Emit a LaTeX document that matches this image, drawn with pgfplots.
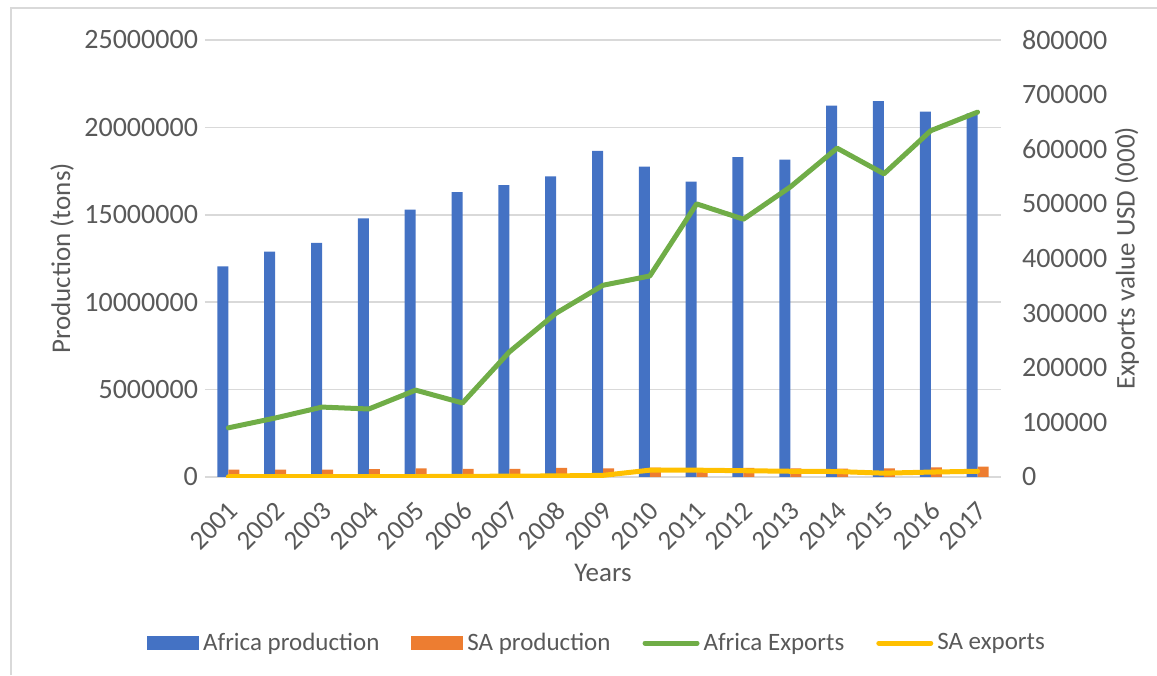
\documentclass[border=0pt]{standalone}
\usepackage{pgfplots}
\pgfplotsset{compat=1.18}
\usepackage{fontspec}
\setmainfont{Carlito}
\definecolor{cblue}{HTML}{4472C4}
\definecolor{corange}{HTML}{ED7D31}
\definecolor{cgreen}{HTML}{70AD47}
\definecolor{cyellow}{HTML}{FFC000}
\definecolor{ctext}{HTML}{595959}
\definecolor{cgrid}{HTML}{D9D9D9}
\begin{document}
\begin{tikzpicture}
\useasboundingbox (0,0) rectangle (578.5pt,337.5pt);
\draw[cgrid, line width=0.75pt] (5.5pt,0) -- (5.5pt,333.5pt) -- (578.5pt,333.5pt);
\pgfplotsset{
  common/.style={
    at={(102.5pt,99pt)}, anchor=south west, scale only axis,
    width=398pt, height=218.5pt,
    xmin=-0.5, xmax=16.5,
    axis line style={draw=none},
    major tick length=0pt,
    tick label style={font=\fontsize{14}{16}\selectfont, text=ctext},
    label style={font=\fontsize{13.5}{16}\selectfont, text=ctext},
    /pgf/number format/assume math mode=true,
    /pgf/number format/fixed, /pgf/number format/1000 sep={},
    scaled y ticks=false,
  }
}
\begin{axis}[common,
  ymin=0, ymax=25000000,
  ytick={0,5000000,10000000,15000000,20000000,25000000},
  ymajorgrids, grid style={cgrid, line width=0.75pt},
  xtick={0,...,16},
  xticklabels={2001,2002,2003,2004,2005,2006,2007,2008,2009,2010,2011,2012,2013,2014,2015,2016,2017},
  x tick label style={xshift=-0.8pt, yshift=-6.5pt, rotate=45, anchor=north east, font=\fontsize{13.5}{16}\selectfont},
  ylabel={Production (tons)},
  ylabel style={at={(axis description cs:-0.1796,0.5)}, anchor=center},
  xlabel={Years},
  xlabel style={at={(axis description cs:0.5,0)}, anchor=center, yshift=-48pt},
  ybar=0pt, bar width=5.5pt,
]
\addplot[fill=cblue, draw=none] coordinates {
(0,12050000) (1,12900000) (2,13400000) (3,14800000) (4,15300000) (5,16300000)
(6,16700000) (7,17200000) (8,18650000) (9,17750000) (10,16900000) (11,18300000)
(12,18150000) (13,21250000) (14,21500000) (15,20900000) (16,20800000)};
\addplot[fill=corange, draw=none] coordinates {
(0,420000) (1,420000) (2,420000) (3,450000) (4,500000) (5,470000)
(6,460000) (7,520000) (8,500000) (9,540000) (10,500000) (11,520000)
(12,500000) (13,480000) (14,500000) (15,550000) (16,600000)};
\end{axis}
\begin{axis}[common,
  ymin=0, ymax=800000,
  ytick={0,100000,...,800000},
  axis y line*=right,
  axis x line=none,
  yticklabel style={xshift=7pt},
  ylabel={Exports value USD (000)},
  ylabel style={at={(axis description cs:1.1583,0.5)}, anchor=center},
  legend columns=4,
  legend style={at={(axis description cs:0.4937,-0.380)}, anchor=center, draw=none,
    font=\fontsize{12.5}{15}\selectfont, text=ctext,
    /tikz/every even column/.append style={column sep=14pt}},
  legend cell align=left,
]
\addlegendimage{area legend, fill=cblue, draw=none, legend image code/.code={\fill[cblue] (0pt,-3.5pt) rectangle (26pt,3.5pt);}}
\addlegendentry{Africa production}
\addlegendimage{area legend, fill=corange, draw=none, legend image code/.code={\fill[corange] (0pt,-3.5pt) rectangle (26pt,3.5pt);}}
\addlegendentry{SA production}
\addplot[cgreen, line width=2.5pt, line cap=round, line join=round,
  legend image code/.code={\draw[cgreen, line width=2.5pt, line cap=round] (1pt,0pt) -- (27pt,0pt);}] coordinates {
(0,90000) (1,108000) (2,128000) (3,124500) (4,159000) (5,135500)
(6,229000) (7,300000) (8,351000) (9,368000) (10,500000) (11,472000)
(12,531000) (13,602000) (14,555000) (15,634000) (16,668000)};
\addlegendentry{Africa Exports}
\addplot[cyellow, line width=2.5pt, line cap=round, line join=round,
  legend image code/.code={\draw[cyellow, line width=2.5pt, line cap=round] (1pt,0pt) -- (27pt,0pt);}] coordinates {
(0,500) (1,600) (2,700) (3,800) (4,800) (5,1200)
(6,1500) (7,2000) (8,3000) (9,12500) (10,12500) (11,11500)
(12,10500) (13,10000) (14,7000) (15,9000) (16,10500)};
\addlegendentry{SA exports}
\end{axis}
\end{tikzpicture}
\end{document}
